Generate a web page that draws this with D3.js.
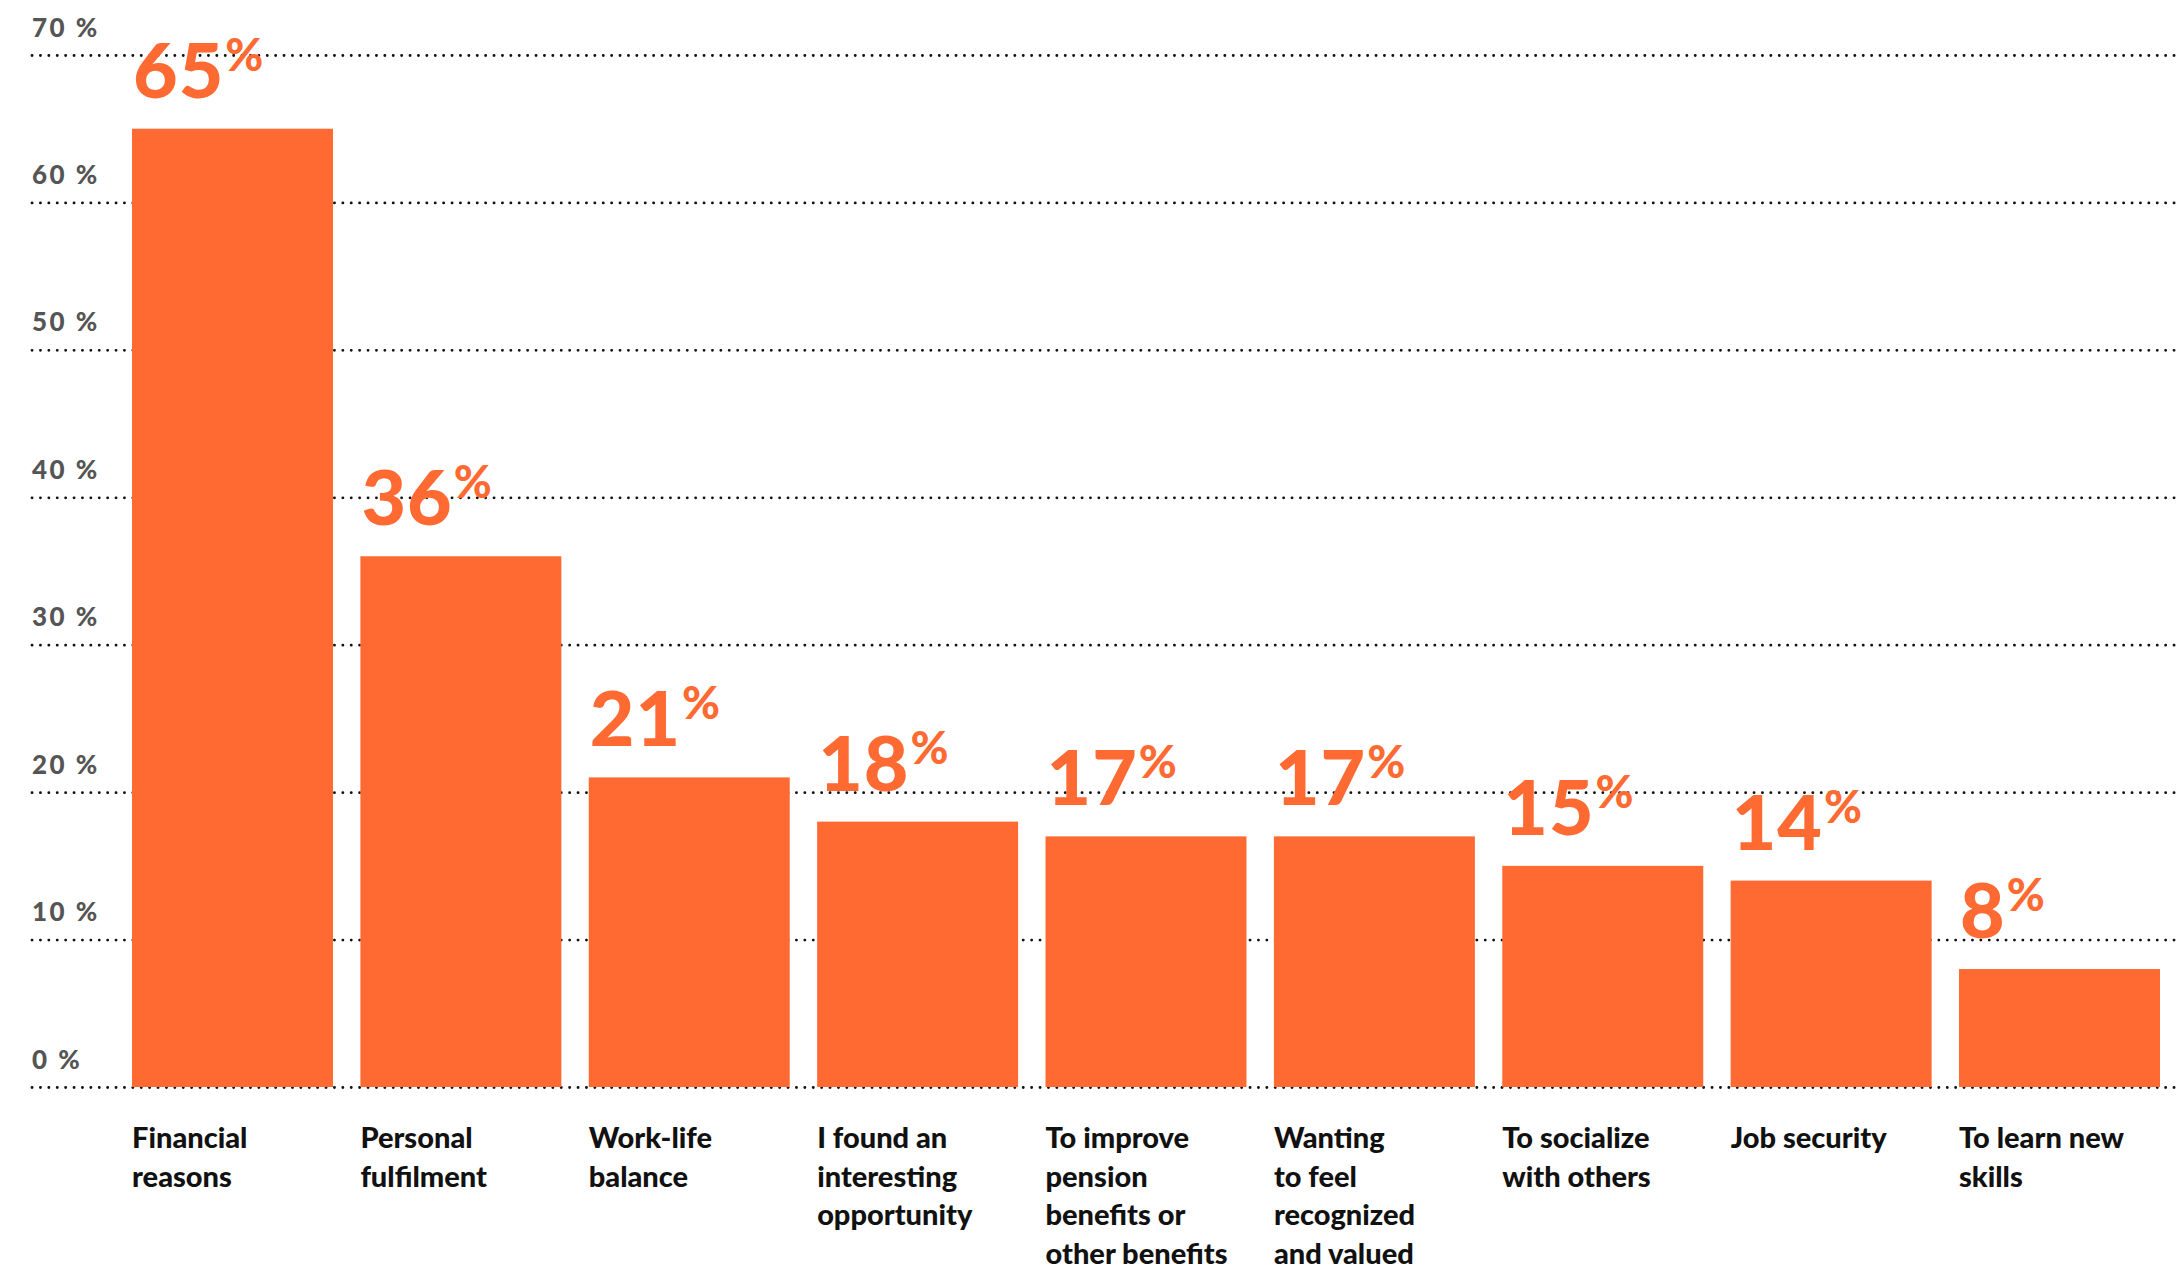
<!DOCTYPE html>
<html>
<head>
<meta charset="utf-8">
<script src="https://cdn.jsdelivr.net/npm/d3@7"></script>
<style>
  html, body { margin: 0; padding: 0; background: #ffffff; }
  svg { display: block; }
</style>
</head>
<body>
<svg id="chart" width="2177" height="1268"></svg>
<script>
// Reasons for working: share of respondents
const categories = [
  ["Financial", "reasons"],
  ["Personal", "fulfilment"],
  ["Work-life", "balance"],
  ["I found an", "interesting", "opportunity"],
  ["To improve", "pension", "benefits or", "other benefits"],
  ["Wanting", "to feel", "recognized", "and valued"],
  ["To socialize", "with others"],
  ["Job security"],
  ["To learn new", "skills"]
];
const values = [65, 36, 21, 18, 17, 17, 15, 14, 8];
const yTicks = [0, 10, 20, 30, 40, 50, 60, 70];
const tickLabels = ["0 %", "10 %", "20 %", "30 %", "40 %", "50 %", "60 %", "70 %"];

const W = 2177, H = 1268;
const orange = "#ff6a33";

const svg = d3.select("#chart");

const x = d3.scaleBand()
  .domain(d3.range(values.length))
  .range([132, 2160])
  .paddingInner(0.12)
  .paddingOuter(0);

const y = d3.scaleLinear()
  .domain([0, 70])
  .range([1087, 55]);

// Dotted gridlines with labels sitting above each line
const grid = svg.append("g")
  .attr("transform", "translate(32,0)")
  .call(d3.axisRight(y)
    .tickValues(yTicks)
    .tickSize(W - 32)
    .tickFormat((d, i) => tickLabels[i]));

grid.select(".domain").remove();
grid.selectAll(".tick line")
  .attr("stroke", "#111")
  .attr("stroke-width", 2.8)
  .attr("stroke-linecap", "round")
  .attr("stroke-dasharray", "0.1 8.3");
grid.selectAll(".tick text")
  .attr("x", 0)
  .attr("dy", 0)
  .attr("y", -19)
  .attr("text-anchor", "start")
  .attr("fill", "#555")
  .style("font-family", "Lato, 'Noto Sans', sans-serif")
  .style("font-weight", 900)
  .style("font-size", "26px")
  .style("letter-spacing", "2.5px");

// Bars
svg.append("g")
  .selectAll("rect")
  .data(values)
  .join("rect")
  .attr("x", (d, i) => x(i))
  .attr("y", d => y(d))
  .attr("width", x.bandwidth())
  .attr("height", d => y(0) - y(d))
  .attr("fill", orange);

// Value labels with raised percent sign
const vl = svg.append("g")
  .selectAll("text")
  .data(values)
  .join("text")
  .attr("x", (d, i) => x(i) + 1)
  .attr("y", d => y(d) - 31)
  .attr("fill", orange)
  .style("font-family", "Lato, 'Noto Sans', sans-serif")
  .style("font-weight", 900)
  .style("font-size", "77px")
  .style("letter-spacing", "1px");
vl.append("tspan").text(d => d);
vl.append("tspan")
  .attr("dx", 1)
  .attr("dy", -27)
  .style("font-size", "46px")
  .style("letter-spacing", "0px")
  .text("%");

// Category labels, one tspan per line
const cl = svg.append("g")
  .selectAll("text")
  .data(categories)
  .join("text")
  .attr("x", (d, i) => x(i))
  .attr("y", 1148)
  .attr("fill", "#111")
  .style("font-family", "Lato, 'Noto Sans', sans-serif")
  .style("font-weight", 900)
  .style("font-size", "29px");
cl.selectAll("tspan")
  .data((d, i) => d.map(line => ({ line, i })))
  .join("tspan")
  .attr("x", d => x(d.i))
  .attr("dy", (d, j) => j === 0 ? 0 : 38.5)
  .text(d => d.line);
</script>
</body>
</html>
